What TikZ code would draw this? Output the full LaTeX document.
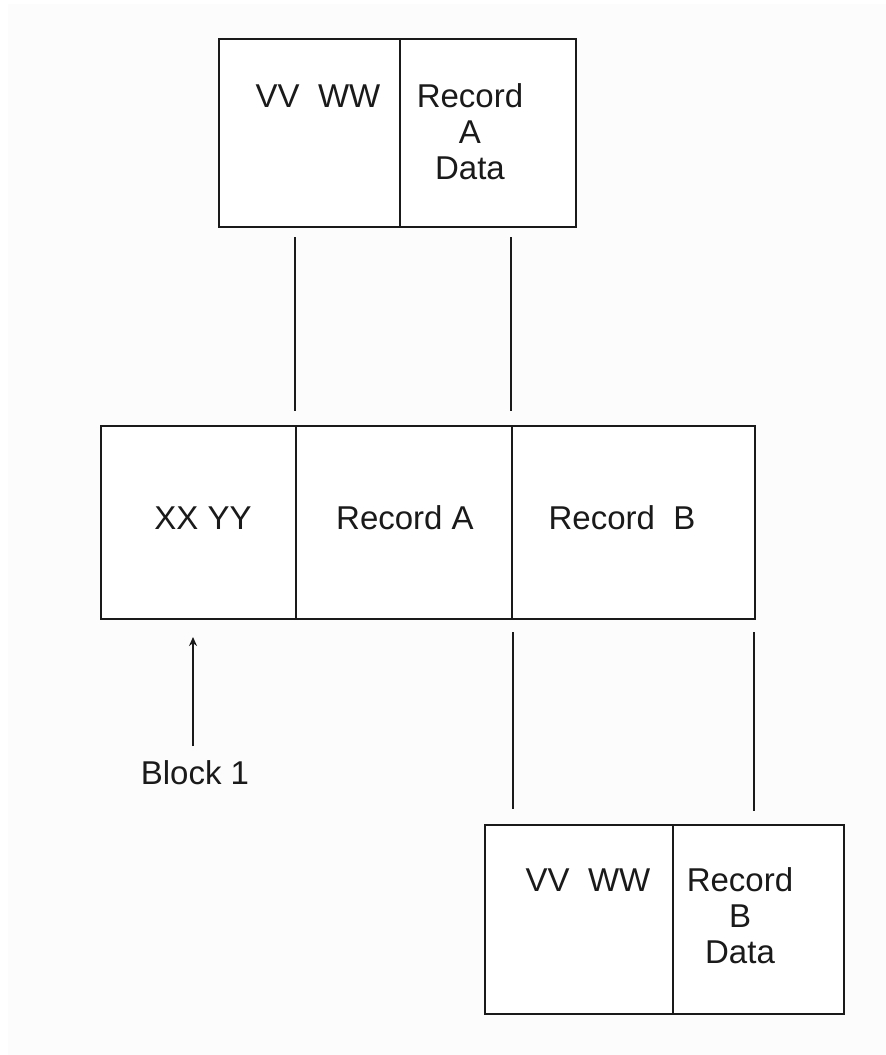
\documentclass[tikz,border=0pt]{standalone}
\usepackage{fontspec}
\setmainfont{Liberation Sans}
\usetikzlibrary{arrows.meta}
\definecolor{bgc}{HTML}{FCFCFC}
\definecolor{ink}{HTML}{1A1A1A}
\begin{document}
\begin{tikzpicture}[x=1pt,y=-1pt,
  cell/.style={draw=ink,line width=2.2pt,fill=white,rectangle,inner sep=0pt,anchor=north west},
  lbl/.style={text=ink,inner sep=0pt,anchor=base,align=center,font=\fontsize{33}{36}\selectfont},
  link/.style={draw=ink,line width=2.2pt}]
\fill[white] (0,0) rectangle (886,1055);
\fill[bgc] (8,4) rectangle (886,1055);
\useasboundingbox (0,0) rectangle (886,1055);
% top box
\node[cell,minimum width=181pt,minimum height=188pt] (ta) at (218,38) {};
\node[cell,minimum width=176pt,minimum height=188pt] (tb) at (399,38) {};
% middle box
\node[cell,minimum width=195pt,minimum height=193pt] (ma) at (100,425) {};
\node[cell,minimum width=216pt,minimum height=193pt] (mb) at (295,425) {};
\node[cell,minimum width=243pt,minimum height=193pt] (mc) at (511,425) {};
% bottom box
\node[cell,minimum width=188pt,minimum height=189pt] (ba) at (484,824) {};
\node[cell,minimum width=171pt,minimum height=189pt] (bb) at (672,824) {};
% labels
\node[lbl] (t1) at (318,107) {VV\ \ WW};
\node[lbl] (t2) at (470,179) {Record\\A\\Data};
\node[lbl] (m1) at (203,529) {XX YY};
\node[lbl] (m2) at (405,529) {Record A};
\node[lbl] (m3) at (622,529) {Record\ \ B};
\node[lbl] (b1) at (588,891) {VV\ \ WW};
\node[lbl] (b2) at (740,963) {Record\\B\\Data};
\node[lbl] (blk) at (195,784) {Block 1};
% connector end points
\coordinate (c1a) at (295,237); \coordinate (c1b) at (295,411);
\coordinate (c2a) at (511,237); \coordinate (c2b) at (511,411);
\coordinate (c3a) at (513,632); \coordinate (c3b) at (513,809);
\coordinate (c4a) at (754,632); \coordinate (c4b) at (754,811);
\coordinate (ar0) at (193,746); \coordinate (ar1) at (193,637);
\draw[link] (c1a) -- (c1b);
\draw[link] (c2a) -- (c2b);
\draw[link] (c3a) -- (c3b);
\draw[link] (c4a) -- (c4b);
\draw[link,-{Stealth[length=9pt,width=8pt]}] (ar0) -- (ar1);
\end{tikzpicture}
\end{document}
